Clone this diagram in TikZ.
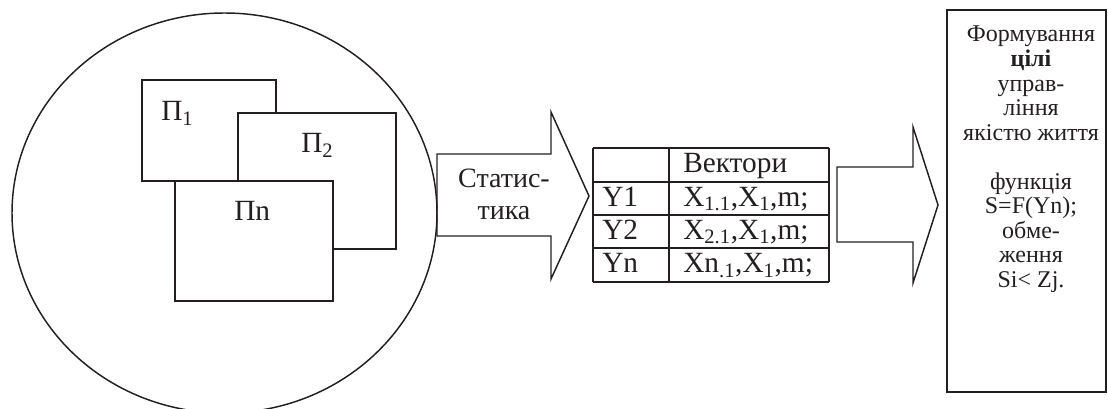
\documentclass[tikz,border=0pt]{standalone}
\usepackage{fontspec}
\setmainfont{Liberation Serif}
\definecolor{ink}{HTML}{231F20}
\newcommand{\bodyfont}{\fontsize{22}{25}\selectfont}
\newcommand{\statfont}{\fontsize{21}{24}\selectfont}
\newcommand{\boxfont}{\fontsize{18}{18.4}\selectfont}

\begin{document}
\begin{tikzpicture}[x=0.75pt,y=-0.75pt,
  frame/.style={draw=ink, line width=1.1pt},
  thickframe/.style={draw=ink, line width=1.6pt},
  sheet/.style={frame, fill=white},
  label/.style={text=ink, font=\bodyfont, inner sep=0pt, anchor=base west}]
  \useasboundingbox (0,0) rectangle (1108,409);

  % Population circle, cut by the lower edge.
  \begin{scope}
    \clip (0,0) rectangle (1108,409);
    \draw[frame] (224.5,213) ellipse [x radius=212.5, y radius=200];
  \end{scope}

  % Stacked sheets, the later one lies on top.
  \draw[sheet] (142,80) rectangle (276,181);
  \node[label] (p1) at (161,121) {П\textsubscript{1}};
  \draw[sheet] (238,113) rectangle (396,249);
  \node[label] (p2) at (301,153) {П\textsubscript{2}};
  \draw[sheet] (175,181) rectangle (333,301);
  \node[label] (pn) at (234,221) {Пn};

  % Block arrow into the table.
  \draw[frame, line join=miter] (437,154) -- (551,154) -- (551,112) -- (589,196)
    -- (551,279) -- (551,236) -- (437,236) -- cycle;
  \node[label, anchor=base] (stat1) at (504,188) {\statfont Статис-};
  \node[label, anchor=base] (stat2) at (504,220) {\statfont тика};

  % Table of vectors.
  \foreach \yy in {148,182,215,248,282}
    \draw[thickframe] (593,\yy) -- (829,\yy);
  \foreach \xx in {593,669,829}
    \draw[thickframe] (\xx,148) -- (\xx,282);
  \node[label] (head) at (683,173) {Вектори};
  \node[label] (y1) at (602,206.5) {Y1};
  \node[label] (x1) at (683,206.5) {X\textsubscript{1.1},X\textsubscript{1},m;};
  \node[label] (y2) at (602,239.5) {Y2};
  \node[label] (x2) at (683,239.5) {X\textsubscript{2.1},X\textsubscript{1},m;};
  \node[label] (yn) at (602,273) {Yn};
  \node[label] (xn) at (683,273) {Xn\textsubscript{.1},X\textsubscript{1},m;};

  % Second block arrow.
  \draw[frame, line join=miter] (837,167) -- (913,167) -- (913,127) -- (938,205)
    -- (913,283) -- (913,242) -- (837,242) -- cycle;

  % Goal box.
  \draw[thickframe] (947,10) rectangle (1106,392);
  \node[text=ink, font=\boxfont, align=center, anchor=north, inner sep=0pt] (goal) at (1031,26)
    {Формування\\ \textbf{цілі}\\ управ-\\ ління\\ якістю життя\\[18.4pt]
     функція\\ S=F(Yn);\\ обме-\\ ження\\ Si< Zj.};
\end{tikzpicture}
\end{document}
